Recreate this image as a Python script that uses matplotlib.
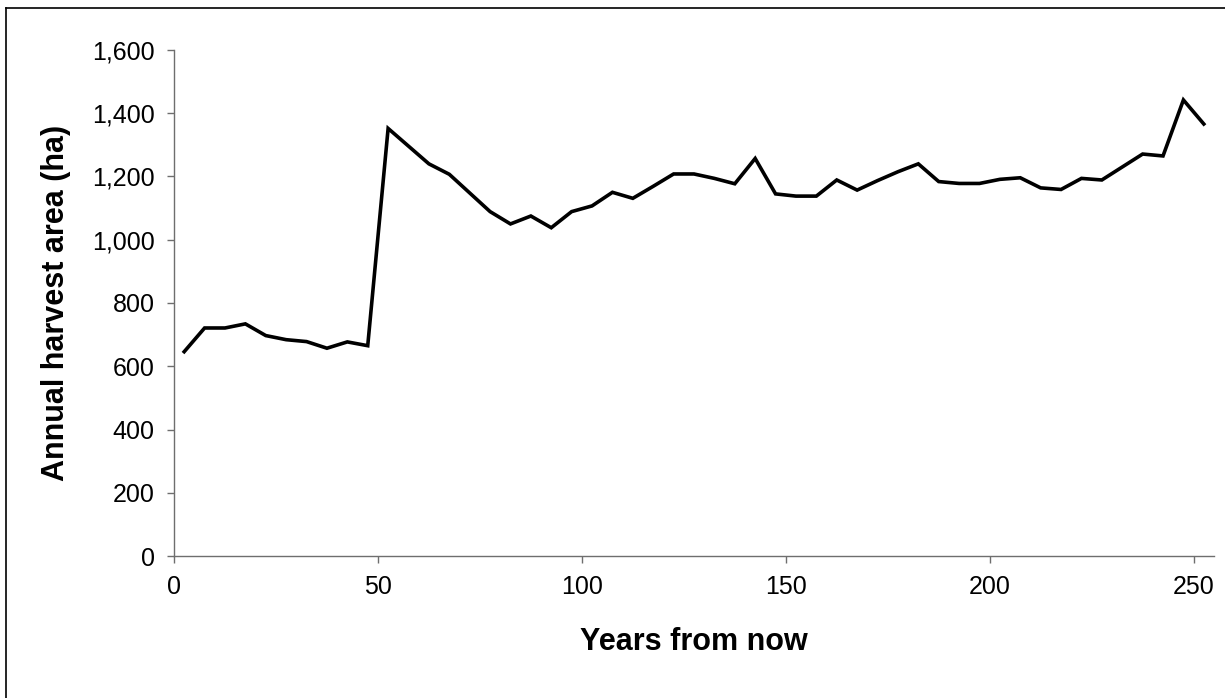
import matplotlib
matplotlib.use("Agg")
import matplotlib.pyplot as plt
from matplotlib.lines import Line2D
from matplotlib.ticker import FuncFormatter

plt.rcParams["font.family"] = ["Liberation Sans", "DejaVu Sans"]

# Mid-point of each 5-year period
years = [2.5 + 5 * i for i in range(51)]
harvest_area = [
    646, 721, 721, 734, 697, 684, 678, 657, 677, 665,
    1352, 1296, 1240, 1207, 1148, 1089, 1050, 1075, 1038, 1089,
    1107, 1150, 1131, 1169, 1208, 1208, 1194, 1177, 1257, 1145,
    1138, 1138, 1189, 1157, 1187, 1215, 1240, 1184, 1178, 1178,
    1191, 1196, 1164, 1159, 1194, 1189, 1230, 1271, 1265, 1442,
    1366,
]
x_ticks = [0, 50, 100, 150, 200, 250]
y_ticks = [0, 200, 400, 600, 800, 1000, 1200, 1400, 1600]

fig = plt.figure(figsize=(12.25, 6.98), dpi=100)
ax = fig.add_axes([174 / 1225, 1 - 556 / 698, 1040 / 1225, 506 / 698])

ax.plot(years, harvest_area, color="black", linewidth=2.6, solid_joinstyle="miter")

ax.set_xlim(0, 255)
ax.set_ylim(0, 1600)
ax.set_xticks(x_ticks)
ax.set_yticks(y_ticks)
ax.yaxis.set_major_formatter(FuncFormatter(lambda v, p: f"{int(v):,}"))

for side in ("top", "right"):
    ax.spines[side].set_visible(False)
for side in ("left", "bottom"):
    ax.spines[side].set_color("#6e6e6e")
    ax.spines[side].set_linewidth(1.0)

ax.tick_params(axis="both", direction="out", length=5, width=1.0,
               color="#6e6e6e", labelsize=18, labelcolor="black")
ax.tick_params(axis="y", pad=9)
ax.tick_params(axis="x", pad=9)

ax.set_xlabel("Years from now", fontsize=22, fontweight="bold", labelpad=20)
ax.set_ylabel("Annual harvest area (ha)", fontsize=22, fontweight="bold", labelpad=15)

# Frame around the chart area
fig.add_artist(Line2D([6 / 1225, 6 / 1225], [0, 1 - 7.5 / 698],
                      transform=fig.transFigure, color="black", linewidth=1.2))
fig.add_artist(Line2D([6 / 1225, 1], [1 - 7.5 / 698, 1 - 7.5 / 698],
                      transform=fig.transFigure, color="black", linewidth=1.2))

fig.savefig("out.png", dpi=100, facecolor="white")
